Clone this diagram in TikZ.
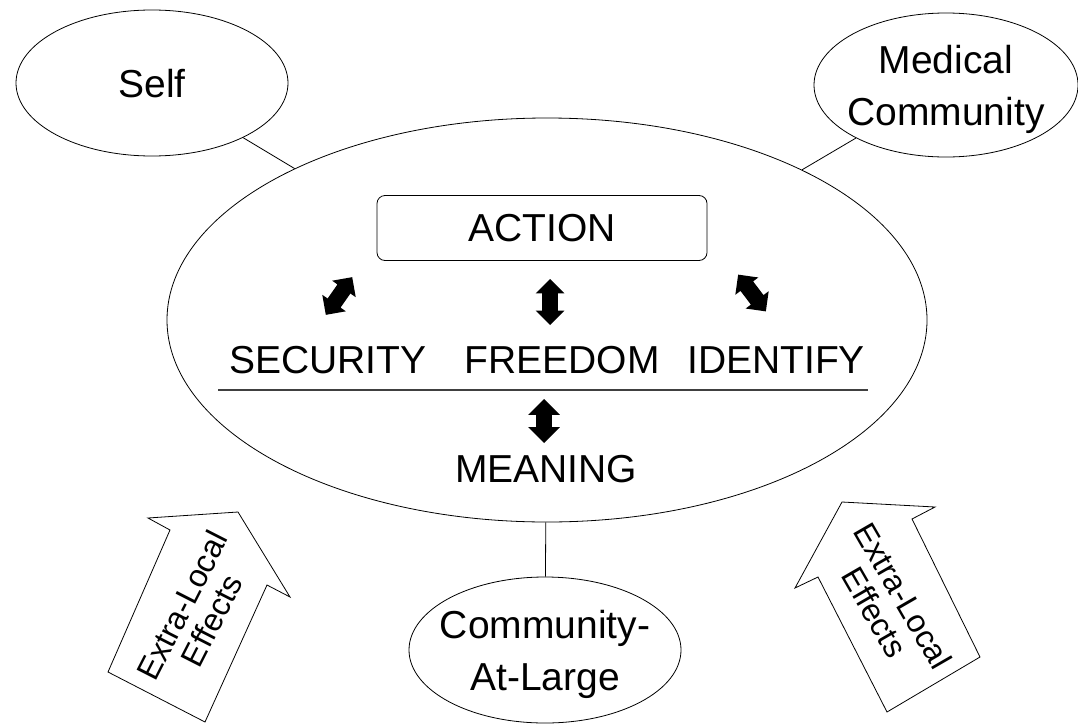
\documentclass[tikz,border=0pt]{standalone}
\usepackage{fontspec}
\setmainfont{Liberation Sans}
\usetikzlibrary{shapes.geometric,shapes.arrows}

\tikzset{
  topic/.style={draw,ellipse,inner sep=-25pt,text depth=0pt,align=center,font=\fontsize{39}{52}\selectfont},
  word/.style={inner sep=0pt,font=\fontsize{39}{47}\selectfont},
  dblarrow/.style={double arrow,fill=black,inner xsep=0pt,inner ysep=7.5pt,minimum height=46pt,minimum width=28pt,double arrow head extend=6.5pt},
  bigarrow/.style={draw,line join=miter},
  effects/.style={inner sep=0pt,align=center,font=\fontsize{32}{33}\selectfont}
}

\begin{document}
\begin{tikzpicture}[x=1pt,y=-1pt,line width=0.8pt]
      \useasboundingbox (0,0) rectangle (1078,723);

      % the four ellipses
      \node[topic,minimum width=760pt,minimum height=404pt] (main)    at (547,320) {};
      \node[topic,minimum width=272pt,minimum height=146pt] (self)    at (152,83)  {Self};
      \node[topic,minimum width=264pt,minimum height=144pt] (medical) at (946,85)  {Medical\\Community};
      \node[topic,minimum width=272pt,minimum height=146pt] (public)  at (545,650) {Community-\\At-Large};

      \path (self)    edge (main)
            (medical) edge (main)
            (public)  edge (main);

      % inside the big ellipse
      \node[word,draw,rounded corners=8pt,minimum width=330pt,minimum height=65pt] (action) at (542,228) {ACTION};
      \node[word] (security) at (328,360) {SECURITY};
      \node[word] (freedom)  at (562,360) {FREEDOM};
      \node[word] (identify) at (776,360) {IDENTIFY};
      \node[word] (meaning)  at (546,469) {MEANING};

      \draw[line width=1.4pt,black!75] (218,390) -- (868,390);

      \node[dblarrow,rotate=55]  (secarrow)  at (339,296) {};
      \node[dblarrow,rotate=90]  (freearrow) at (550,302) {};
      \node[dblarrow,rotate=127] (idarrow)   at (752,293) {};
      \node[dblarrow,rotate=90,minimum height=44pt,double arrow head extend=8pt] (meanarrow) at (544,421) {};

      % extra-local effects
      \draw[bigarrow] (148,518) -- (238,512) -- (290,597) -- (267,585) -- (205,722) -- (108,672) -- (170,530) -- cycle;
      \draw[bigarrow] (842,502) -- (935,507) -- (912,519) -- (980,657) -- (887,712) -- (818,577) -- (795,588) -- cycle;
      \node[effects,rotate=63]  (leftfx)  at (197,613) {Extra-Local\\Effects};
      \node[effects,rotate=-60] (rightfx) at (889,604) {Extra-Local\\Effects};
\end{tikzpicture}
\end{document}
